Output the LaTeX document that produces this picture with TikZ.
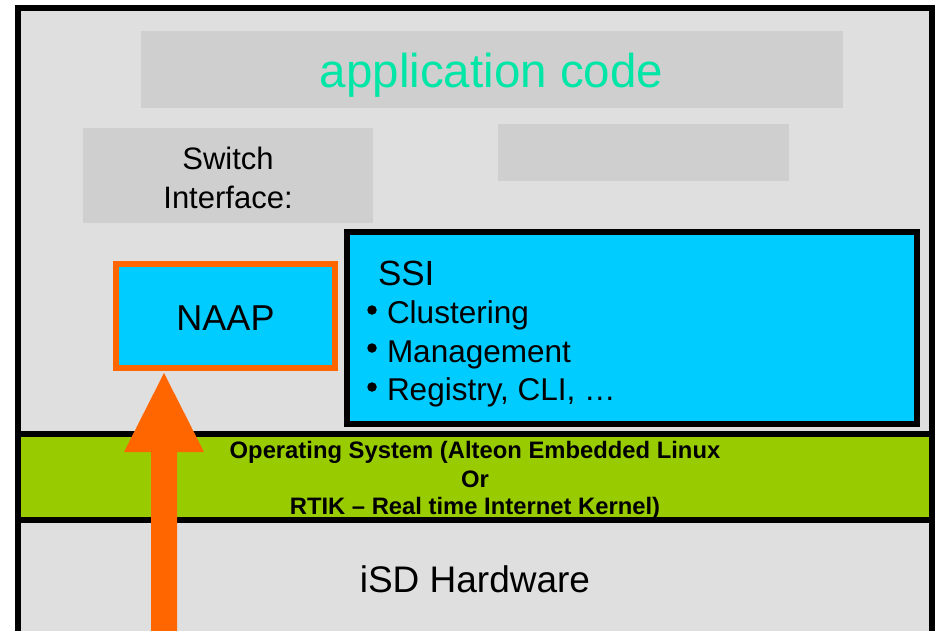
\documentclass[tikz,border=0pt]{standalone}
\usepackage{fontspec}
\setmainfont{Liberation Sans}
\usetikzlibrary{calc}

\definecolor{panel}{HTML}{DFDFDF}
\definecolor{blockgray}{HTML}{CFCFCF}
\definecolor{appgreen}{HTML}{00E6A6}
\definecolor{ssicyan}{HTML}{00CCFF}
\definecolor{osgreen}{HTML}{99CC00}
\definecolor{naaporange}{HTML}{FF6600}

\begin{document}
\begin{tikzpicture}[x=1pt,y=-1pt,
  block/.style={fill=blockgray,draw=none,inner sep=0pt,outer sep=0pt},
  layerbox/.style={draw=black,line width=6pt,inner sep=0pt,outer sep=0pt},
  label/.style={inner sep=0pt,outer sep=0pt,anchor=base},
  item/.style={inner sep=0pt,outer sep=0pt,anchor=base west,font=\fontsize{31.5}{38}\selectfont},
  ostext/.style={label,font=\bfseries\fontsize{23.8}{28}\selectfont},
  dot/.style={circle,fill=black,inner sep=0pt,minimum size=9.5pt}]

\useasboundingbox (0,0) rectangle (938,630);
\clip (0,0) rectangle (938,630);
\fill[white] (0,0) rectangle (938,630);

% main panel
\fill[panel] (18,7.5) rectangle (932,660);

% upper grey blocks
\node[block,minimum width=702pt,minimum height=77pt] (app) at (492,69.5) {};
\node[label,text=appgreen,font=\fontsize{47.5}{57}\selectfont] (apptext) at (491.5,87) {application code};

\node[block,minimum width=290pt,minimum height=95pt] (switch) at (228,175.5) {};
\node[label,font=\fontsize{31}{38}\selectfont] (switch1) at (228,169) {Switch};
\node[label,font=\fontsize{31}{38}\selectfont] (switch2) at (228,208) {Interface:};

\node[block,minimum width=291pt,minimum height=57pt] (spare) at (643.5,152.5) {};

% SSI block
\node[layerbox,fill=ssicyan,minimum width=570pt,minimum height=192pt] (ssi) at (632,328) {};
\node[label,anchor=base west,font=\fontsize{35}{42}\selectfont] (ssititle) at (378,285) {SSI};
\node[dot] (b1) at (372,310) {};
\node[item] (i1) at (387,323) {Clustering};
\node[dot] (b2) at (372,348) {};
\node[item] (i2) at (387,362) {Management};
\node[dot] (b3) at (372,387) {};
\node[item] (i3) at (387,400) {Registry, CLI, …};

% NAAP block
\node[layerbox,draw=naaporange,fill=ssicyan,minimum width=219pt,minimum height=104pt] (naap) at (225.5,316) {};
\node[label,font=\fontsize{36}{43}\selectfont] (naaptext) at (225.5,330) {NAAP};

% operating system layer
\node[layerbox,fill=osgreen,minimum width=914pt,minimum height=86pt] (os) at (475,477) {};
\node[ostext] (os1) at (475,458) {Operating System (Alteon Embedded Linux};
\node[ostext] (os2) at (475,487) {Or};
\node[ostext] (os3) at (475,514) {RTIK – Real time Internet Kernel)};

% hardware layer
\node[label,font=\fontsize{37}{44}\selectfont] (hw) at (475,592) {iSD Hardware};

% outer frame
\draw[line width=6pt] (18,670) -- (18,7.5) -- (932,7.5) -- (932,670);

% upward arrow into NAAP
\coordinate (tip) at (164,373);
\coordinate (base) at (164,660);
\fill[naaporange] (tip) -- ($(tip)+(40,79)$) -- ($(tip)+(13,79)$) -- ($(base)+(13,0)$)
  -- ($(base)+(-13,0)$) -- ($(tip)+(-13,79)$) -- ($(tip)+(-40,79)$) -- cycle;
\end{tikzpicture}
\end{document}
